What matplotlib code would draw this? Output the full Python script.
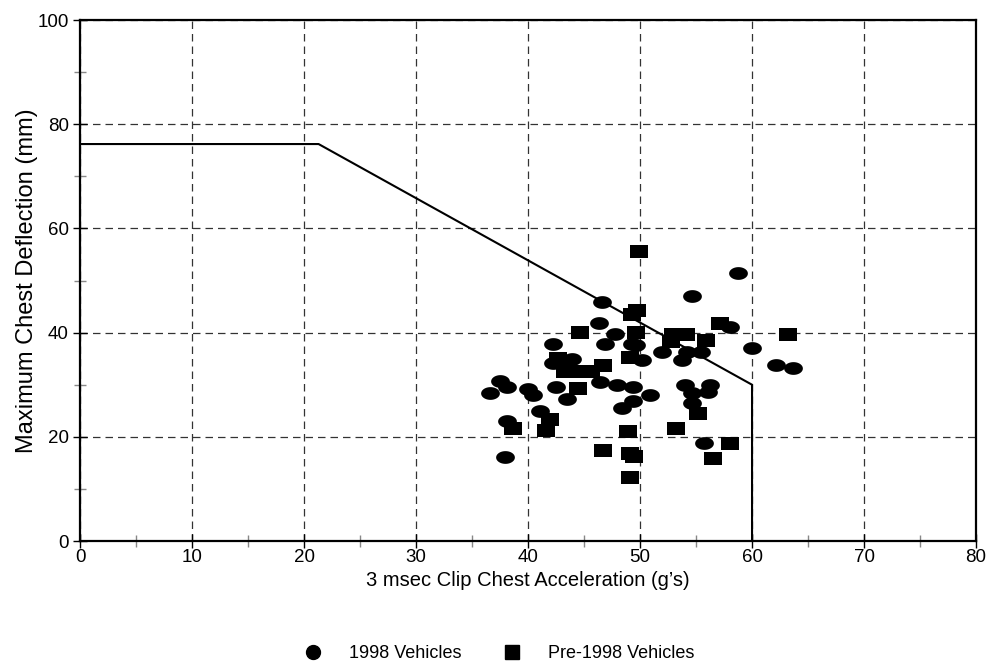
import matplotlib
matplotlib.use("Agg")
import matplotlib.pyplot as plt
from matplotlib.path import Path
from matplotlib.lines import Line2D
import numpy as np

plt.rcParams['font.family'] = ['Liberation Sans', 'DejaVu Sans']

# 1998 vehicles (acceleration g's, deflection mm)
veh1998_x = [58.75, 54.6, 46.6, 46.3, 47.8, 46.9, 49.3, 49.6, 42.2, 42.2, 43.9, 50.2,
             58.0, 52.0, 54.2, 55.4, 53.75, 60.0, 62.1, 63.7, 54.0, 56.25, 54.6, 56.1,
             54.6, 55.7, 37.5, 38.1, 36.6, 40.0, 40.4, 42.5, 43.5, 46.4, 47.9, 49.4,
             50.9, 49.4, 48.4, 41.1, 38.1, 37.9]
veh1998_y = [51.5, 47.1, 45.8, 41.8, 39.7, 37.9, 37.9, 37.7, 37.9, 34.1, 34.9, 34.7,
             41.0, 36.2, 36.2, 36.2, 34.7, 37.0, 33.7, 33.3, 29.9, 29.9, 28.4, 28.7,
             26.4, 18.8, 30.8, 29.5, 28.5, 29.1, 28.0, 29.5, 27.2, 30.5, 29.9, 29.5,
             28.0, 26.8, 25.5, 24.9, 23.0, 16.1]

# Pre-1998 vehicles
pre1998_x = [49.9, 49.7, 49.3, 44.6, 49.6, 57.1, 63.2, 52.9, 54.1, 55.9, 52.8, 49.1,
             42.7, 43.4, 43.3, 44.7, 45.6, 46.7, 44.5, 38.7, 42.0, 41.6, 48.9, 46.7,
             49.1, 49.5, 49.1, 55.2, 53.2, 58.0, 56.5]
pre1998_y = [55.7, 44.4, 43.5, 40.2, 40.2, 41.8, 39.7, 39.8, 39.8, 38.5, 38.3, 35.4,
             35.1, 34.5, 32.6, 32.6, 32.6, 33.7, 29.3, 21.6, 23.4, 21.3, 21.1, 17.4,
             16.9, 16.3, 12.3, 24.5, 21.6, 18.8, 15.9]

# Performance limit line
limit_x = [0, 21.3, 60, 60]
limit_y = [76.2, 76.2, 30, 0]

legend_labels = ['1998 Vehicles', 'Pre-1998 Vehicles']

# Marker shapes: slightly wide ellipse and wide rectangle
theta = np.linspace(0, 2 * np.pi, 60)
ellipse = Path(np.column_stack([1.0 * np.cos(theta), 0.68 * np.sin(theta)]), closed=True)
rect = Path([(-1, -0.72), (1, -0.72), (1, 0.72), (-1, 0.72), (-1, -0.72)], closed=True)

fig = plt.figure(figsize=(9.89, 6.64), dpi=100)
ax = fig.add_axes([0.0809, 0.1852, 0.906, 0.7846])

ax.plot(limit_x, limit_y, color='black', lw=1.5, zorder=3)
ax.scatter(veh1998_x, veh1998_y, marker=ellipse, s=13.5**2, color='black', zorder=4, linewidths=0)
ax.scatter(pre1998_x, pre1998_y, marker=rect, s=13**2, color='black', zorder=4, linewidths=0)

ax.set_xlim(0, 80)
ax.set_ylim(0, 100)
ax.set_xticks(np.arange(0, 81, 10))
ax.set_yticks(np.arange(0, 101, 20))
ax.set_xticks(np.arange(5, 80, 10), minor=True)
ax.set_yticks(np.arange(10, 100, 20), minor=True)
ax.tick_params(which='major', direction='inout', length=10, width=1, color='black',
               labelsize=13.5)
ax.tick_params(which='minor', direction='inout', length=8, width=1, color='#888888')
ax.tick_params(axis='x', which='major', pad=1)
ax.tick_params(axis='y', which='major', pad=3)

ax.grid(True, which='major', color='#333333', linestyle=(0, (6, 4)), linewidth=0.9)
ax.set_axisbelow(True)
for sp in ax.spines.values():
    sp.set_linewidth(1.6)

ax.set_xlabel("3 msec Clip Chest Acceleration (g’s)", fontsize=14.5, labelpad=3)
ax.set_ylabel("Maximum Chest Deflection (mm)", fontsize=17, labelpad=0)

handles = [Line2D([], [], marker='o', color='black', linestyle='none', markersize=10),
           Line2D([], [], marker='s', color='black', linestyle='none', markersize=10)]
fig.legend(handles, legend_labels, loc='center',
           bbox_to_anchor=(0.5, 0.016), ncol=2, frameon=False, fontsize=13,
           handletextpad=1.0, columnspacing=1.8, borderpad=0.1)

fig.savefig('out.png', dpi=100)
